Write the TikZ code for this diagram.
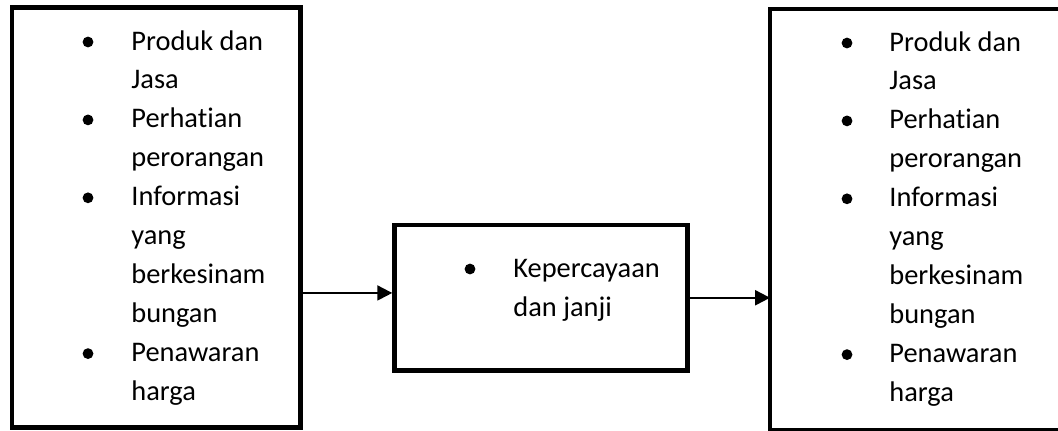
\documentclass[tikz,border=0pt]{standalone}
\usepackage{fontspec}
\setmainfont{Carlito}[Ligatures={NoCommon,NoContextual}, Contextuals=NoAlternate]
\usetikzlibrary{arrows.meta,calc}

\begin{document}
\begin{tikzpicture}[x=0.5pt, y=-0.5pt,
    kotak/.style={draw, line width=2.25pt, inner sep=0pt},
    teks/.style={anchor=base west, inner sep=0pt, font=\fontsize{14.2}{19.7}\selectfont},
    panah/.style={line width=1pt, -{Triangle[length=7.5pt, width=7.5pt]}}]
% Batas gambar
\useasboundingbox (0,0) rectangle (1058,430);

% Kotak
\node[kotak, minimum width=144.25pt, minimum height=210pt] (kiri) at (156.25,217.5) {};
\node[kotak, minimum width=146.5pt, minimum height=72.75pt] (tengah) at (541,297.75) {};
% kotak kanan terpotong di tepi kanan
\node[inner sep=0pt, minimum width=200pt, minimum height=210pt] (kanan) at (970.5,219.5) {};
\draw[line width=2.25pt] (kanan.north east) -- (kanan.north west) -- (kanan.south west) -- (kanan.south east);

% Isi kotak kiri
\foreach \t [count=\i] in {Produk dan, Jasa, Perhatian, perorangan, Informasi, yang, berkesinam, bungan, Penawaran, harga}
    \node[teks] (kiri-\i) at (131,{50+(\i-1)*38.95}) {\t};
\foreach \i in {1,3,5,9}
    \fill ($(kiri-\i.base west)+(-43,-8)$) circle (2.7pt);

% Isi kotak tengah
\node[teks] (tengah-1) at (513,277) {Kepercayaan};
\node[teks] (tengah-2) at (513,316) {dan janji};
\fill ($(tengah-1.base west)+(-43,-8)$) circle (2.7pt);

% Isi kotak kanan
\foreach \t [count=\i] in {Produk dan, Jasa, Perhatian, perorangan, Informasi, yang, berkesinam, bungan, Penawaran, harga}
    \node[teks] (kanan-\i) at (889,{51+(\i-1)*38.95}) {\t};
\foreach \i in {1,3,5,9}
    \fill ($(kanan-\i.base west)+(-42,-8)$) circle (2.7pt);

% Panah
\coordinate (masuk) at ([yshift=2.4pt]tengah.west);
\draw[panah] (kiri.east |- masuk) -- (masuk);
\draw[panah] (tengah.east) -- (kanan.west |- tengah.east);

\end{tikzpicture}
\end{document}
